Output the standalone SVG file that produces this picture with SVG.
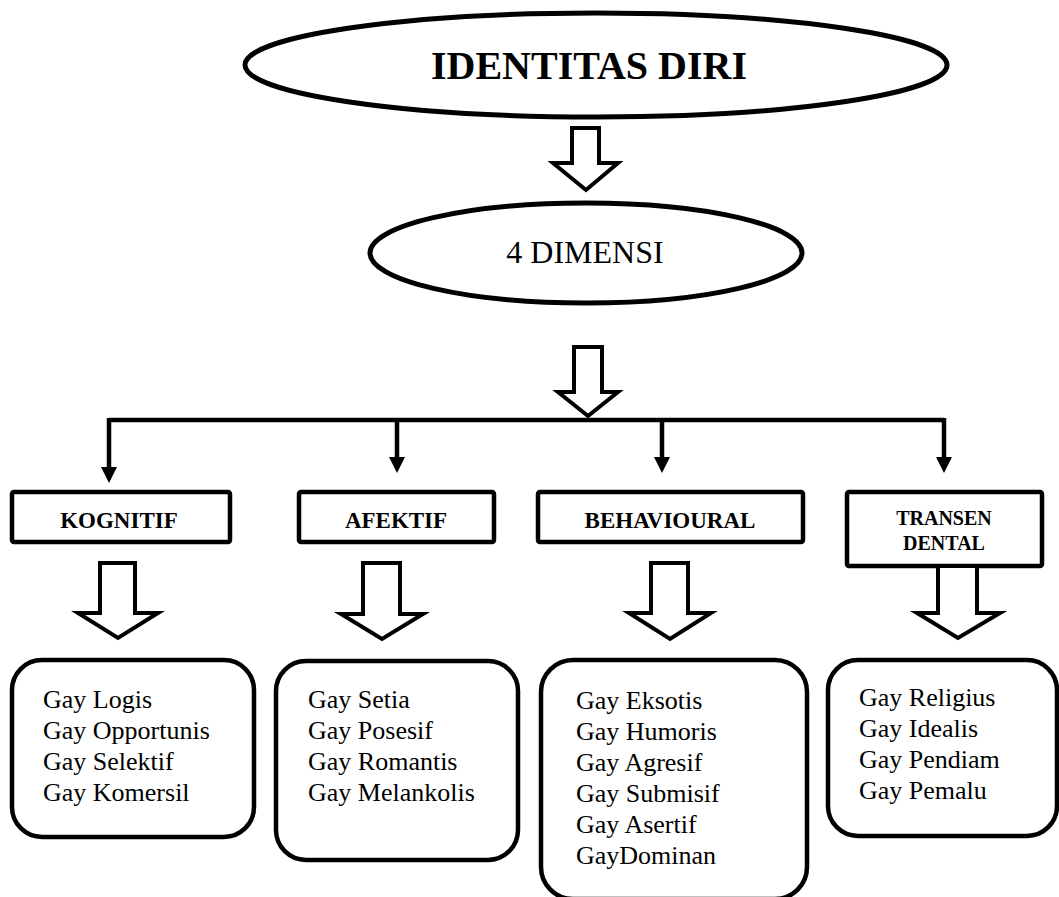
<svg xmlns="http://www.w3.org/2000/svg" width="1059" height="897" viewBox="0 0 1059 897">
<style>
.ell{fill:#fff;stroke:#000;stroke-width:5}
.box{fill:#fff;stroke:#000;stroke-width:4.5}
.rbox{fill:#fff;stroke:#000;stroke-width:4.5}
.blk{fill:#fff;stroke:#000;stroke-width:4;stroke-linejoin:miter}
.con{fill:none;stroke:#000;stroke-width:4.5}
.lbl{font-family:"Liberation Serif","Times New Roman",serif;font-weight:bold;fill:#000;text-anchor:middle}
.txt{font-family:"Liberation Serif","Times New Roman",serif;font-size:26px;fill:#000}
</style>
<defs>
<marker id="ah" markerUnits="userSpaceOnUse" markerWidth="16" markerHeight="16" refX="0" refY="8" orient="auto" viewBox="0 0 16 16">
<path d="M0,0 L16,8 L0,16 Z" fill="#000"/>
</marker>
</defs>
<rect width="1059" height="897" fill="#fff"/>

<g id="identitas">
<ellipse class="ell" cx="596" cy="65" rx="351" ry="52" stroke-width="5.5"/>
<text class="lbl" x="589" y="79" font-size="40">IDENTITAS DIRI</text>
</g>

<g id="arrow1">
<path class="blk" d="M572,128 L599,128 L599,163 L618,163 L586,190 L553,163 L572,163 Z"/>
</g>

<g id="dimensi">
<ellipse class="ell" cx="586" cy="253" rx="216" ry="50"/>
<text x="585" y="263" font-family="Liberation Serif, Times New Roman, serif" font-size="32" text-anchor="middle">4 DIMENSI</text>
</g>

<g id="arrow2">
<path class="blk" d="M574,347 L602,347 L602,392 L618,392 L588,416 L558,392 L574,392 Z"/>
</g>

<g id="connectors">
<path class="con" d="M109,420 L944,420"/>
<path class="con" d="M109,418 L109,467" marker-end="url(#ah)"/>
<path class="con" d="M397,420 L397,457" marker-end="url(#ah)"/>
<path class="con" d="M662,420 L662,457" marker-end="url(#ah)"/>
<path class="con" d="M944,418 L944,457" marker-end="url(#ah)"/>
</g>

<g id="kognitif">
<rect class="box" x="12" y="492" width="218" height="50" rx="2"/>
<text class="lbl" x="119" y="528" font-size="23">KOGNITIF</text>
</g>
<g id="afektif">
<rect class="box" x="299" y="492" width="195" height="50" rx="2"/>
<text class="lbl" x="396" y="528" font-size="23">AFEKTIF</text>
</g>
<g id="behavioural">
<rect class="box" x="538" y="492" width="265" height="50" rx="2"/>
<text class="lbl" x="670" y="528" font-size="23">BEHAVIOURAL</text>
</g>
<g id="transendental">
<rect class="box" x="847" y="492" width="195" height="74" rx="2"/>
<text class="lbl" x="944" y="525" font-size="20">TRANSEN</text>
<text class="lbl" x="944" y="550" font-size="20">DENTAL</text>
</g>

<g id="arrow-k">
<path class="blk" d="M100,563 L135,563 L135,613 L158,613 L118,638 L78,613 L100,613 Z"/>
</g>
<g id="arrow-a">
<path class="blk" d="M363,563 L400,563 L400,614 L423,614 L382,639 L341,614 L363,614 Z"/>
</g>
<g id="arrow-b">
<path class="blk" d="M651,563 L688,563 L688,613 L711,613 L670,639 L629,613 L651,613 Z"/>
</g>
<g id="arrow-t">
<path class="blk" d="M938,566 L977,566 L977,613 L1000,613 L958,638 L917,613 L938,613 Z"/>
</g>

<g id="list-kognitif">
<rect class="rbox" x="12" y="660" width="242" height="177" rx="30"/>
<text class="txt" x="43" y="708">Gay Logis</text>
<text class="txt" x="43" y="739">Gay Opportunis</text>
<text class="txt" x="43" y="770">Gay Selektif</text>
<text class="txt" x="43" y="801">Gay Komersil</text>
</g>
<g id="list-afektif">
<rect class="rbox" x="276" y="661" width="242" height="199" rx="30"/>
<text class="txt" x="308" y="708">Gay Setia</text>
<text class="txt" x="308" y="739">Gay Posesif</text>
<text class="txt" x="308" y="770">Gay Romantis</text>
<text class="txt" x="308" y="801">Gay Melankolis</text>
</g>
<g id="list-behavioural">
<rect class="rbox" x="541" y="660" width="266" height="239" rx="32"/>
<text class="txt" x="576" y="709">Gay Eksotis</text>
<text class="txt" x="576" y="740">Gay Humoris</text>
<text class="txt" x="576" y="771">Gay Agresif</text>
<text class="txt" x="576" y="802">Gay Submisif</text>
<text class="txt" x="576" y="833">Gay Asertif</text>
<text class="txt" x="576" y="864">GayDominan</text>
</g>
<g id="list-transen">
<rect class="rbox" x="828" y="660" width="229" height="176" rx="30"/>
<text class="txt" x="859" y="706">Gay Religius</text>
<text class="txt" x="859" y="737">Gay Idealis</text>
<text class="txt" x="859" y="768">Gay Pendiam</text>
<text class="txt" x="859" y="799">Gay Pemalu</text>
</g>
</svg>
